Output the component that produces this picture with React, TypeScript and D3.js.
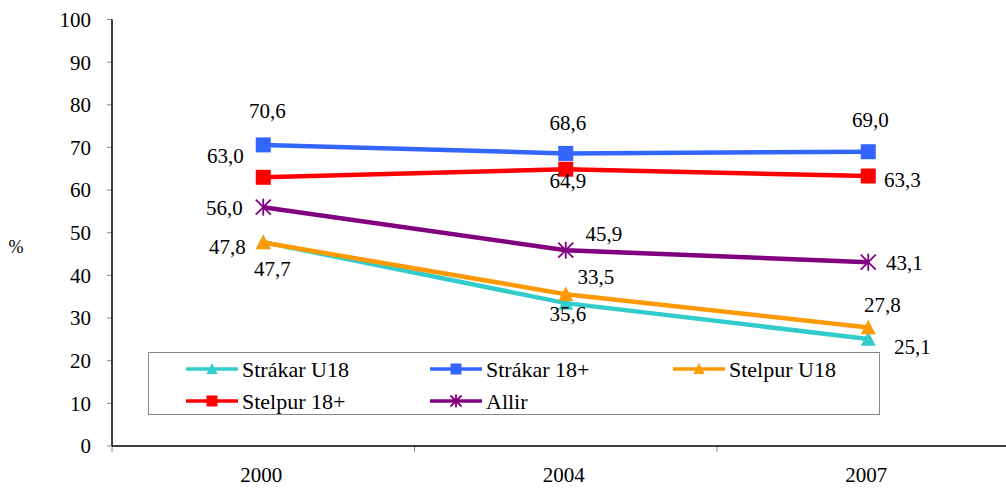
import React from "react";
import * as d3 from "d3";

const years = ["2000", "2004", "2007"];
const yTicks = [0, 10, 20, 30, 40, 50, 60, 70, 80, 90, 100];

const strakarU18 = [47.8, 33.5, 25.1];
const strakar18 = [70.6, 68.6, 69.0];
const stelpurU18 = [47.7, 35.6, 27.8];
const stelpur18 = [63.0, 64.9, 63.3];
const allir = [56.0, 45.9, 43.1];

const seriesNames = ["Strákar U18", "Strákar 18+", "Stelpur U18", "Stelpur 18+", "Allir"];

type Marker = "triangle" | "square" | "star";

const series = [
  { name: seriesNames[0], values: strakarU18, color: "#33CCCC", marker: "triangle" as Marker },
  { name: seriesNames[1], values: strakar18, color: "#3366FF", marker: "square" as Marker },
  { name: seriesNames[2], values: stelpurU18, color: "#FF9900", marker: "triangle" as Marker },
  { name: seriesNames[3], values: stelpur18, color: "#FF0000", marker: "square" as Marker },
  { name: seriesNames[4], values: allir, color: "#800080", marker: "star" as Marker },
];

// label offsets (layout only): [dx, dy] of label centre from the point
const labelOffsets: Record<string, [number, number][]> = {
  "Strákar U18": [[-36, 5], [30, -26], [44, 8]],
  "Strákar 18+": [[4, -34], [2, -31], [2, -32]],
  "Stelpur U18": [[9, 26], [2, 19], [14, -23]],
  "Stelpur 18+": [[-38, -22], [2, 11], [34, 4]],
  "Allir": [[-39, 0], [38, -17], [36, 0]],
};

const FONT = "Liberation Serif, serif";

function MarkerShape({ type, x, y, color, size }: { type: Marker; x: number; y: number; color: string; size: number }) {
  const h = size / 2;
  if (type === "square") {
    return <rect x={x - h} y={y - h} width={size} height={size} fill={color} />;
  }
  if (type === "triangle") {
    const th = size * 0.9;
    return (
      <path
        d={`M${x},${y - th / 2 - 1} L${x + h},${y + th / 2} L${x - h},${y + th / 2} Z`}
        fill={color}
      />
    );
  }
  return (
    <g stroke={color} strokeWidth={1.8}>
      <line x1={x - h} y1={y - h} x2={x + h} y2={y + h} />
      <line x1={x - h} y1={y + h} x2={x + h} y2={y - h} />
      <line x1={x} y1={y - h - 1} x2={x} y2={y + h + 1} />
    </g>
  );
}

export default function App() {
  const W = 1006;
  const H = 492;
  const left = 112;
  const right = 1019.5;
  const top = 19.5;
  const bottom = 446;

  const x = d3.scaleBand<string>().domain(years).range([left, right]);
  const y = d3.scaleLinear().domain([0, 100]).range([bottom, top]);
  const cx = (yr: string) => (x(yr) as number) + x.bandwidth() / 2;

  const line = d3
    .line<number>()
    .x((_, i) => cx(years[i]))
    .y((v) => y(v));

  const legendItems = [
    { s: series[0], lx: 186, ly: 369 },
    { s: series[1], lx: 430, ly: 369 },
    { s: series[2], lx: 673, ly: 369 },
    { s: series[3], lx: 186, ly: 401 },
    { s: series[4], lx: 430, ly: 401 },
  ];

  const tickEdges = [...years.map((yr) => x(yr) as number), right];

  return (
    <div style={{ position: "absolute", left: 0, top: 0, fontFamily: FONT }}>
      <svg width={W} height={H} style={{ display: "block", background: "#fff" }}>
        <g fontFamily={FONT}>
          <rect x={0} y={0} width={W} height={H} fill="#fff" />
          {/* y axis */}
          {yTicks.map((t) => (
            <g key={t}>
              <line x1={107} x2={left} y1={y(t)} y2={y(t)} stroke="#888" strokeWidth={1} />
              <text x={91} y={y(t)} dy="0.35em" textAnchor="end" fontSize={21} fill="#000">
                {t}
              </text>
            </g>
          ))}
          <line x1={left} x2={left} y1={top} y2={bottom} stroke="#000" strokeWidth={1.5} />
          {/* x axis */}
          {tickEdges.map((e, i) => (
            <line key={i} x1={e} x2={e} y1={bottom} y2={bottom + 6} stroke="#888" strokeWidth={1} />
          ))}
          <line x1={left} x2={W} y1={bottom} y2={bottom} stroke="#000" strokeWidth={1.5} />
          {years.map((yr) => (
            <text key={yr} x={cx(yr) - 2} y={482} textAnchor="middle" fontSize={21} fill="#000">
              {yr}
            </text>
          ))}
          <text x={16} y={253} textAnchor="middle" fontSize={18} fill="#000">
            %
          </text>

          {/* legend */}
          <rect x={148.5} y={352.5} width={731} height={62} fill="#fff" stroke="#888" strokeWidth={1} />
          {legendItems.map(({ s, lx, ly }) => (
            <g key={s.name}>
              <line x1={lx} x2={lx + 52} y1={ly} y2={ly} stroke={s.color} strokeWidth={3.5} />
              <MarkerShape type={s.marker} x={lx + 26} y={ly} color={s.color} size={11} />
              <text x={lx + 56} y={ly} dy="0.35em" fontSize={22} fill="#000">
                {s.name}
              </text>
            </g>
          ))}

          {/* series */}
          {series.map((s) => (
            <g key={s.name}>
              <path d={line(s.values) || ""} fill="none" stroke={s.color} strokeWidth={4.5} />
              {s.values.map((v, i) => (
                <MarkerShape key={i} type={s.marker} x={cx(years[i])} y={y(v)} color={s.color} size={15} />
              ))}
            </g>
          ))}

          {/* data labels */}
          {series.map((s) =>
            s.values.map((v, i) => {
              const [dx, dy] = labelOffsets[s.name][i];
              return (
                <text
                  key={s.name + i}
                  x={cx(years[i]) + dx}
                  y={y(v) + dy}
                  dy="0.35em"
                  textAnchor="middle"
                  fontSize={21}
                  fill="#000"
                >
                  {v.toFixed(1).replace(".", ",")}
                </text>
              );
            })
          )}
        </g>
      </svg>
    </div>
  );
}
